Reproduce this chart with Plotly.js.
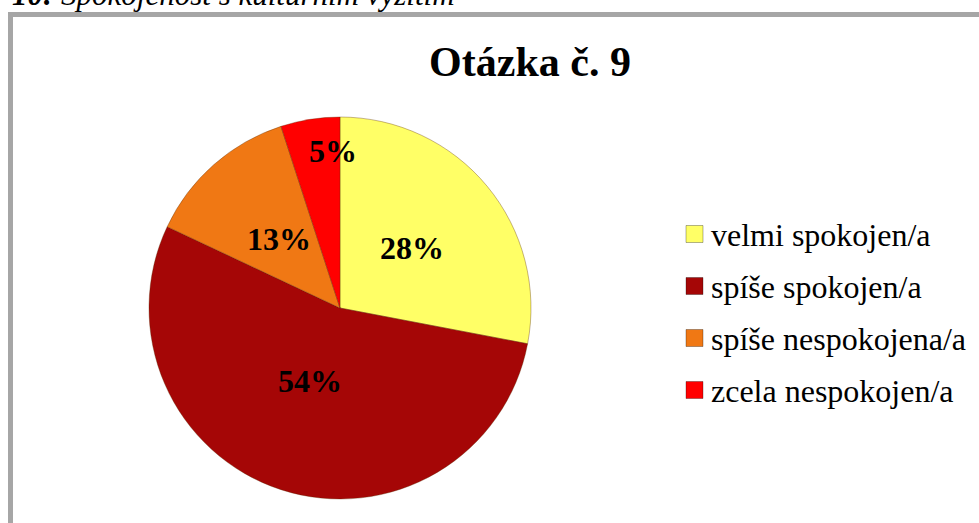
<!DOCTYPE html>
<html>
<head>
<meta charset="utf-8">
<script src="https://cdn.plot.ly/plotly-3.0.1.min.js"></script>
<style>
html,body{margin:0;padding:0;background:#fff;}
#chart{width:979px;height:523px;}
</style>
</head>
<body>
<div id="chart"></div>
<script>
// ---- data ----
const categories = ["velmi spokojen/a", "spíše spokojen/a", "spíše nespokojena/a", "zcela nespokojen/a"];
const values = [28, 54, 13, 5];
const sliceColors = ["#FFFF66", "#A50606", "#F07814", "#FF0000"];
const chartTitle = "Otázka č. 9";
const captionNumber = "10:";
const captionText = "Spokojenost s kulturním vyžitím";

// ---- layout / style ----
const W = 979, H = 523;
const px = x => x / W;
const py = y => 1 - y / H;
const serif = "'Liberation Serif', 'Times New Roman', serif";

const cx = 340, cy = 308, r = 191;
const labelRadius = [0.49, 0.40, 0.48, 0.83];   // radial placement of each label (style)
const labelShift = [0, -6, 0, 18];              // small horizontal nudges (style)

const trace = {
  type: "pie",
  labels: categories,
  values: values,
  sort: false,
  direction: "clockwise",
  rotation: 0,
  marker: { colors: sliceColors, line: { color: "rgba(90,40,0,0.35)", width: 1 } },
  textinfo: "none",
  hoverinfo: "label+percent",
  showlegend: false,
  domain: { x: [px(cx - r), px(cx + r)], y: [py(cy + r), py(cy - r)] }
};

const shapes = [
  { type: "rect", xref: "paper", yref: "paper",
    x0: px(10.5), x1: 1.05, y0: -0.05, y1: py(14.5),
    line: { color: "#A6A6A6", width: 5 }, fillcolor: "rgba(0,0,0,0)" }
];
const annotations = [
  { xref: "paper", yref: "paper", x: px(10), y: py(-6), xanchor: "left", yanchor: "middle",
    showarrow: false, align: "left",
    text: "<b><i>" + captionNumber + "</i></b> <i>" + captionText + "</i>",
    font: { family: serif, size: 31, color: "#000" } }
];

// percentage labels placed from the values (mid-angle of each slice)
const total = values.reduce((a, b) => a + b, 0);
let cum = 0;
values.forEach((v, i) => {
  const mid = (cum + v / 2) / total * 2 * Math.PI;
  cum += v;
  const rr = labelRadius[i] * r;
  const x = cx + rr * Math.sin(mid);
  const y = cy - rr * Math.cos(mid);
  annotations.push({ xref: "paper", yref: "paper", x: px(x), y: py(y), xanchor: "center", yanchor: "middle",
    xshift: labelShift[i], showarrow: false,
    text: "<b>" + Math.round(v / total * 100) + "%</b>",
    font: { family: serif, size: 32, color: "#000" } });
});

// manual legend built from categories/colors
const legendX = 686, legendY0 = 234, legendStep = 52, mk = 17;
categories.forEach((c, i) => {
  const yc = legendY0 + i * legendStep;
  shapes.push({ type: "rect", xref: "paper", yref: "paper",
    x0: px(legendX), x1: px(legendX + mk), y0: py(yc + mk / 2), y1: py(yc - mk / 2),
    fillcolor: sliceColors[i], line: { color: "rgba(0,0,0,0.3)", width: 1 } });
  annotations.push({ xref: "paper", yref: "paper", x: px(709), y: py(yc + 1), xanchor: "left", yanchor: "middle",
    showarrow: false, text: c, font: { family: serif, size: 32, color: "#000" } });
});

const layout = {
  width: W, height: H,
  margin: { l: 0, r: 0, t: 0, b: 0 },
  paper_bgcolor: "#fff",
  plot_bgcolor: "#fff",
  title: { text: "<b>" + chartTitle + "</b>", x: px(530), xanchor: "center", xref: "paper",
           y: py(61), yanchor: "middle", yref: "paper",
           font: { family: serif, size: 42, color: "#000" } },
  shapes: shapes,
  annotations: annotations,
  showlegend: false
};

Plotly.newPlot("chart", [trace], layout, { displayModeBar: false, staticPlot: true });
</script>
</body>
</html>
